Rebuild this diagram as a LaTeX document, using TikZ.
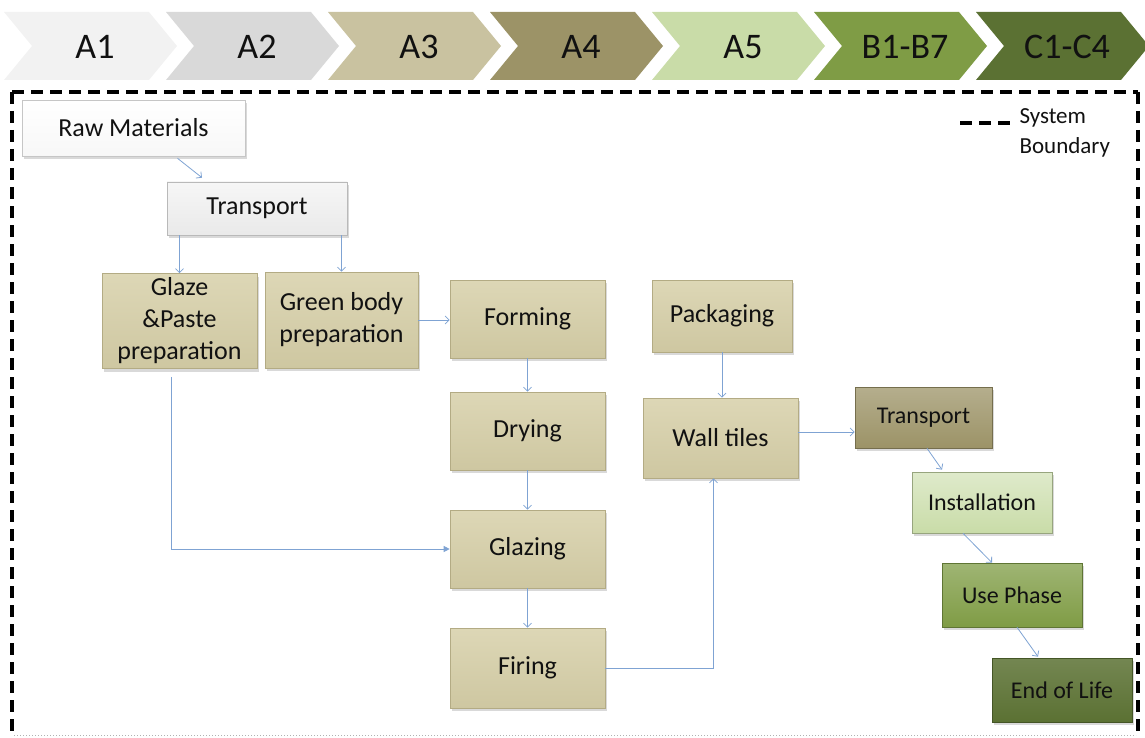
\documentclass[tikz,border=0pt]{standalone}
\usepackage{fontspec}
\setmainfont{Carlito}
\usetikzlibrary{arrows.meta,shadows,calc}
\definecolor{cA1}{HTML}{F2F2F2}
\definecolor{cA2}{HTML}{D9D9D9}
\definecolor{cA3}{HTML}{C9C2A0}
\definecolor{cA4}{HTML}{9C9367}
\definecolor{cA5}{HTML}{C9DCA8}
\definecolor{cB}{HTML}{7F9C45}
\definecolor{cC}{HTML}{5B7133}
\definecolor{tan}{HTML}{CEC7A1}
\definecolor{tantop}{HTML}{DDD7B6}
\definecolor{tanborder}{HTML}{B3AB84}
\definecolor{txt}{HTML}{111111}
\definecolor{arrowblue}{HTML}{7FA3D3}
\begin{document}
\begin{tikzpicture}[x=1pt,y=-1pt,
  box/.style={rectangle, inner sep=2pt, align=center, text=txt, line width=0.6pt,
    font=\fontsize{26}{32}\selectfont,
    drop shadow={shadow xshift=2pt, shadow yshift=-3pt, opacity=0.3}},
  tanbox/.style={box, draw=tanborder, top color=tantop, bottom color=tan},
  smallbox/.style={font=\fontsize{24}{29}\selectfont},
  conn/.style={draw=arrowblue, line width=0.8pt, -{Straight Barb[length=4pt,width=8pt]}},
  chev/.style={font=\fontsize{36}{40}\selectfont, text=txt},
  boundary/.style={line width=3.5pt, dash pattern=on 12pt off 7pt}
]
\useasboundingbox (0,0) rectangle (1145,738);

% phase chevrons
\foreach \i/\col/\lab/\nm in {0/cA1/A1/pA1, 1/cA2/A2/pA2, 2/cA3/A3/pA3, 3/cA4/A4/pA4, 4/cA5/A5/pA5, 5/cB/B1-B7/pB, 6/cC/C1-C4/pC}{
  \pgfmathsetmacro{\xo}{4+162*\i}
  \fill[\col] (\xo,12) -- ({\xo+145},12) -- ({\xo+173},46) -- ({\xo+145},80) -- (\xo,80) -- ({\xo+28},46) -- cycle;
  \node[chev] (\nm) at ({\xo+91},47) {\lab};
}

% system boundary
\draw[boundary] (12,92) -- (1138,92);
\draw[boundary] (12,92) -- (12,738);
\draw[boundary] (1138,92) -- (1138,738);
\draw[gray!60, line width=1pt, dotted] (14,735) -- (1136,735);

% legend
\draw[line width=3.5pt, dash pattern=on 12pt off 7pt] (960,123) -- (1015,123);
\node[anchor=west, align=left, text=txt, font=\fontsize{23}{30}\selectfont] (legend) at (1016,133) {System\\Boundary};

% boxes
\node[box, draw=gray!45, top color=white, bottom color=gray!6, minimum width=223pt, minimum height=56pt] (raw) at (133.5,128) {Raw Materials};
\node[box, draw=gray!55, top color=gray!7, bottom color=gray!17, minimum width=180pt, minimum height=53pt] (tr1) at (257,208.5) {Transport};
\node[tanbox, minimum width=155pt, minimum height=95pt] (glaze) at (179.5,321) {Glaze\\\&Paste\\preparation};
\node[tanbox, minimum width=153pt, minimum height=96pt] (green) at (341.5,320) {Green body\\preparation};
\node[tanbox, minimum width=155pt, minimum height=78pt] (forming) at (527.5,319) {Forming};
\node[tanbox, minimum width=140pt, minimum height=72pt] (packaging) at (722,316) {Packaging};
\node[tanbox, minimum width=155pt, minimum height=78pt] (drying) at (527.5,431) {Drying};
\node[tanbox, minimum width=155pt, minimum height=80pt] (wall) at (720.5,438) {Wall tiles};
\node[tanbox, minimum width=155pt, minimum height=78pt] (glazing) at (527.5,549) {Glazing};
\node[tanbox, minimum width=155pt, minimum height=80pt] (firing) at (527.5,668) {Firing};
\node[box, smallbox, draw=cA4!75!black, top color=cA4!75!white, bottom color=cA4, minimum width=137pt, minimum height=61pt] (tr2) at (923.5,417.5) {Transport};
\node[box, smallbox, draw=cA5!75!black, top color=cA5!60!white, bottom color=cA5, minimum width=140pt, minimum height=61pt] (inst) at (982,502.5) {Installation};
\node[box, smallbox, draw=cB!75!black, top color=cB!75!white, bottom color=cB, minimum width=140pt, minimum height=64pt] (use) at (1012,595) {Use Phase};
\node[box, smallbox, draw=cC!75!black, top color=cC!85!white, bottom color=cC, minimum width=140pt, minimum height=64pt] (eol) at (1062,690) {End of Life};

% connectors
\draw[conn] ([xshift=44pt,yshift=-2pt]raw.south) -- ([xshift=-55pt,yshift=4pt]tr1.north);
\draw[conn] (tr1.south -| glaze) -- (glaze.north);
\draw[conn] (tr1.south -| green) -- (green.north);
\draw[conn] (green.east) -- (green.east -| forming.west);
\draw[draw=arrowblue, line width=0.8pt, -{Triangle[length=6pt,width=6pt]}] ([xshift=-8pt,yshift=-8pt]glaze.south) |- (glazing.west);
\draw[conn] (forming.south) -- (drying.north);
\draw[conn] (drying.south) -- (glazing.north);
\draw[conn] (glazing.south) -- (firing.north);
\draw[conn] (firing.east) -| ([xshift=-7pt]wall.south);
\draw[conn] (packaging.south) -- (packaging.south |- wall.north);
\draw[conn] ([yshift=6pt]wall.east) -- ([yshift=6pt]wall.east -| tr2.west);
\draw[conn] ([xshift=3.5pt]tr2.south) -- ([xshift=-40pt,yshift=2pt]inst.north);
\draw[conn] ([xshift=-19pt]inst.south) -- ([xshift=-20pt]use.north);
\draw[conn] ([xshift=5pt]use.south) -- ([xshift=-24pt,yshift=1pt]eol.north);
\end{tikzpicture}
\end{document}
